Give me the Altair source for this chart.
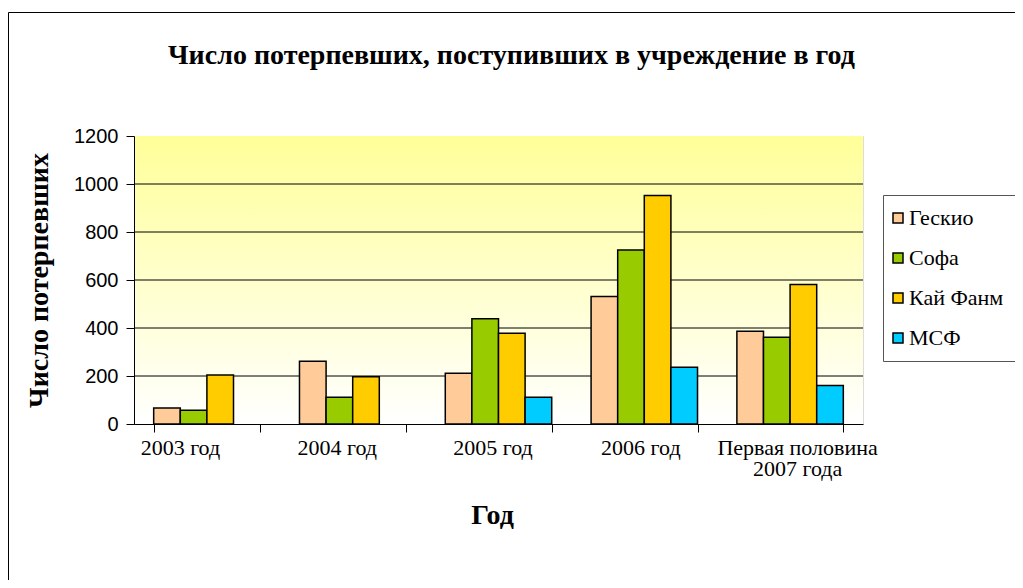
import altair as alt
import pandas as pd

years = ["2003 год", "2004 год", "2005 год", "2006 год", "Первая половина 2007 года"]
series = ["Гескио", "Софа", "Кай Фанм", "МСФ"]
geskio = [67, 261, 211, 531, 386]
sofa = [57, 111, 439, 725, 361]
kai_fanm = [204, 197, 378, 952, 581]
msf = [None, None, 111, 236, 160]
colors = ["#FFCC99", "#99CC00", "#FFCC00", "#00CCFF"]
y_ticks = [0, 200, 400, 600, 800, 1000, 1200]
grid_vals = [200, 400, 600, 800, 1000]

rows = []
for name, vals in zip(series, [geskio, sofa, kai_fanm, msf]):
    for yr, v in zip(years, vals):
        if v is not None:
            rows.append({"year": yr, "series": name, "value": v})
df = pd.DataFrame(rows)

W, H = 729, 288
PL, PT = 126, 128
PR = 1007 - PL - W
PB = 572 - PT - H

label_shift = ("datum.value == '2003 год' ? -27 : datum.value == '2004 год' ? -16 : "
               "datum.value == '2005 год' ? -6 : datum.value == '2006 год' ? -4 : 7")

x_enc = alt.X(
    "year:N", sort=years,
    scale=alt.Scale(paddingInner=0.27, paddingOuter=0.135),
    axis=alt.Axis(
        title="Год", labelAngle=0, tickBand="extent", tickSize=8,
        tickColor="black", domainColor="black", labelColor="black",
        labelFont="Liberation Serif", labelFontSize=22, labelPadding=5,
        labelLineHeight=21,
        labelOffset={"expr": label_shift},
        labelExpr="datum.value == 'Первая половина 2007 года' ? ['Первая половина', '2007 года'] : datum.value",
        titleFont="Liberation Serif", titleFontSize=28, titleFontWeight="bold",
        titleColor="black", titlePadding=22, titleX=358, grid=False, zindex=1,
    ),
)
y_scale = alt.Scale(domain=[0, 1200], nice=False)

bg = alt.Chart(pd.DataFrame({"a": [0]})).mark_rect(
    fill=alt.LinearGradient(
        gradient="linear", x1=0, x2=0, y1=0, y2=1,
        stops=[alt.GradientStop(color="#FFFF99", offset=0),
               alt.GradientStop(color="#FFFFFF", offset=1)],
    ),
).encode(x=alt.value(0), x2=alt.value("width"), y=alt.value(0), y2=alt.value("height"))

border = alt.Chart(pd.DataFrame({"a": [0]})).mark_rect(
    fillOpacity=0, stroke="black", strokeWidth=1,
).encode(x=alt.value(-PL + 0.5), x2=alt.value(W + PR + 20),
         y=alt.value(-PT + 4.5), y2=alt.value(H + PB + 20))

grid = alt.Chart(pd.DataFrame({"v": grid_vals})).mark_rule(
    color="black", strokeWidth=1
).encode(y=alt.Y("v:Q", scale=y_scale))

bars = alt.Chart(df).mark_bar(stroke="black", strokeWidth=1.5).encode(
    x=x_enc,
    xOffset=alt.XOffset("series:N", sort=series,
                        scale=alt.Scale(domain=series, paddingInner=0, paddingOuter=0)),
    y=alt.Y("value:Q", scale=y_scale,
            axis=alt.Axis(
                title="Число потерпевших", values=y_ticks, format="d", tickSize=8,
                tickColor="black", domainColor="black", labelColor="black",
                labelFont="Liberation Sans", labelFontSize=20, labelPadding=8,
                titleFont="Liberation Serif", titleFontSize=28,
                titleFontWeight="bold", titleColor="black", titlePadding=20,
                grid=False, zindex=1,
            )),
    color=alt.Color("series:N", sort=series,
                    scale=alt.Scale(domain=series, range=colors),
                    legend=alt.Legend(
                        title=None, orient="none", legendX=749, legendY=59,
                        symbolType="square", symbolSize=100, symbolOffset=-8,
                        symbolStrokeColor="black", symbolStrokeWidth=1.5,
                        labelFont="Liberation Serif", labelFontSize=22,
                        labelColor="black", labelOffset=0, rowPadding=18,
                        padding=12, strokeColor="#555555", fillColor="white",
                    )),
)

chart = alt.layer(border, bg, grid, bars).properties(
    width=W, height=H,
    autosize=alt.AutoSizeParams(type="none"),
    padding={"left": PL, "top": PT, "right": PR, "bottom": PB},
    title=alt.TitleParams(
        "Число потерпевших, поступивших в учреждение в год",
        font="Liberation Serif", fontSize=28, fontWeight="bold", color="black",
        anchor="middle", dx=13, offset=-80, baseline="alphabetic",
    ),
).configure_view(stroke="#808080", strokeWidth=1).configure(background="white")

chart.save("out.html", embed_options={"renderer": "svg", "actions": False})
